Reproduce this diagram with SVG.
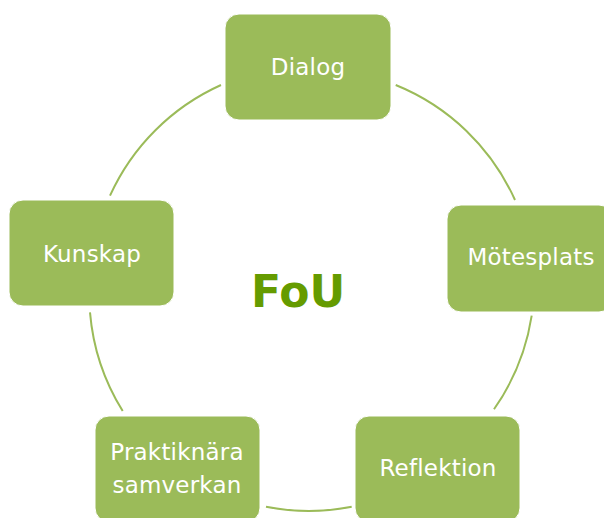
<svg xmlns="http://www.w3.org/2000/svg" width="604" height="518" viewBox="0 0 604 518">
<style>
.box{fill:#9BBB59;stroke:#ffffff;stroke-width:1}
.lbl{font-family:"DejaVu Sans","Verdana",sans-serif;font-size:23px;fill:#ffffff;text-anchor:middle;letter-spacing:0.2px}
.arc{fill:none;stroke:#9BBB59;stroke-width:2}
</style>
<rect width="604" height="518" fill="#ffffff"/>
<g id="connectors">
<path class="arc" d="M395.7,85 A222,222 0 0 1 515,200"/>
<path class="arc" d="M531.7,315.7 A222,222 0 0 1 494,409.3"/>
<path class="arc" d="M351.7,506.7 A222,222 0 0 1 266,506.7"/>
<path class="arc" d="M122.7,411 A222,222 0 0 1 90,312.3"/>
<path class="arc" d="M110,195.7 A222,222 0 0 1 221,85"/>
</g>
<g id="center">
<text x="298" y="307" style="font-family:'DejaVu Sans','Verdana',sans-serif;font-size:44px;font-weight:bold;fill:#659B00;text-anchor:middle">FoU</text>
</g>
<g id="dialog">
<rect class="box" x="225" y="14" width="166" height="106" rx="14"/>
<text class="lbl" x="308" y="75">Dialog</text>
</g>
<g id="motesplats">
<rect class="box" x="447" y="205" width="166" height="107" rx="14"/>
<text class="lbl" x="531" y="265">Mötesplats</text>
</g>
<g id="reflektion">
<rect class="box" x="355" y="416" width="165" height="106" rx="14"/>
<text class="lbl" x="438" y="476">Reflektion</text>
</g>
<g id="praktiknara">
<rect class="box" x="95" y="416" width="165" height="106" rx="14"/>
<text class="lbl" x="177" y="460">Praktiknära</text>
<text class="lbl" x="177" y="493">samverkan</text>
</g>
<g id="kunskap">
<rect class="box" x="9" y="200" width="165" height="106" rx="14"/>
<text class="lbl" x="92" y="262">Kunskap</text>
</g>
</svg>
